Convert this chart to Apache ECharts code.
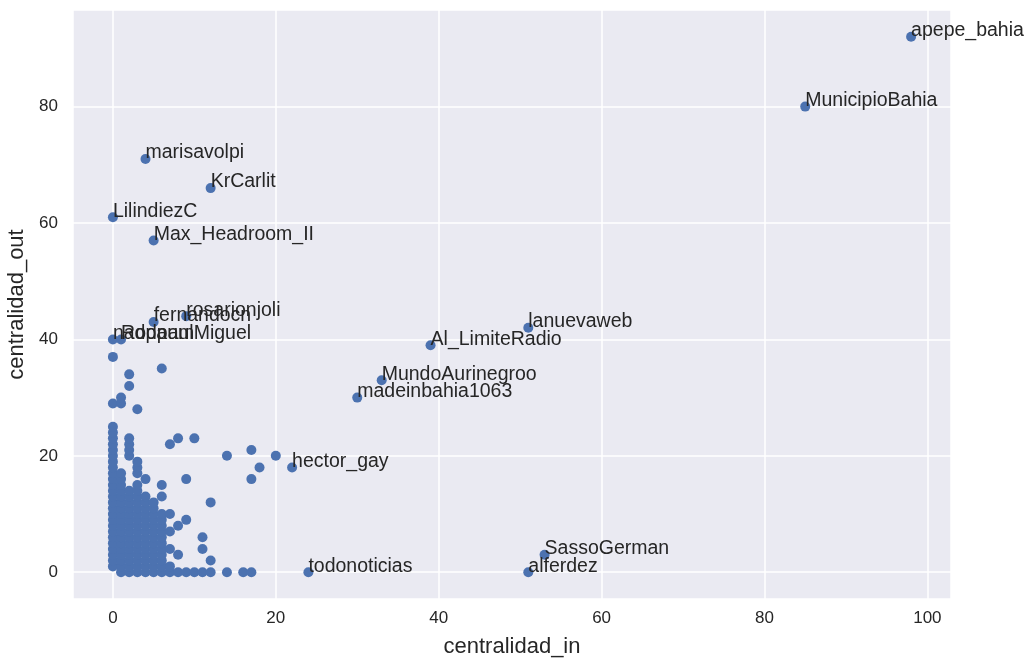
<!DOCTYPE html>
<html>
<head>
<meta charset="utf-8">
<script src="https://cdn.jsdelivr.net/npm/echarts@6/dist/echarts.min.js"></script>
<style>
  html, body { margin: 0; padding: 0; background: #fff; }
  #chart { width: 1026px; height: 659px; }
</style>
</head>
<body>
<div id="chart"></div>
<script>
// nodos con etiqueta: nombre, centralidad_in, centralidad_out
const labelNames = ['apepe_bahia', 'MunicipioBahia', 'marisavolpi', 'KrCarlit', 'LilindiezC',
  'Max_Headroom_II', 'rosarionjoli', 'fernandocn', 'nadpaum', 'RodpaulMiguel',
  'Al_LimiteRadio', 'lanuevaweb', 'MundoAurinegroo', 'madeinbahia1063', 'hector_gay',
  'todonoticias', 'alferdez', 'SassoGerman']
const labelIn  = [98, 85, 4, 12, 0, 5, 9, 5, 0, 1, 39, 51, 33, 30, 22, 24, 51, 53]
const labelOut = [92, 80, 71, 66, 61, 57, 44, 43, 40, 40, 39, 42, 33, 30, 18, 0, 0, 3]

// resto de nodos, agrupados por centralidad_out: [out, [valores de in]]
const clusterRows = [
  [0, [1, 2, 3, 4, 5, 6, 7, 8, 9, 10, 11, 12, 14, 16, 17]],
  [1, [0, 1, 2, 3, 4, 5, 6, 7]],
  [2, [0, 1, 2, 3, 4, 5, 6, 12]],
  [3, [0, 1, 2, 3, 4, 5, 6, 8]],
  [4, [0, 1, 2, 3, 4, 5, 6, 7, 11]],
  [5, [0, 1, 2, 3, 4, 5, 6]],
  [6, [0, 1, 2, 3, 4, 5, 6, 11]],
  [7, [0, 1, 2, 3, 4, 5, 6, 7]],
  [8, [0, 1, 2, 3, 4, 5, 6, 8]],
  [9, [0, 1, 2, 3, 4, 5, 6, 9]],
  [10, [0, 1, 2, 3, 4, 5, 6, 7]],
  [11, [0, 1, 2, 3, 4, 5]],
  [12, [0, 1, 2, 3, 4, 5, 12]],
  [13, [0, 1, 2, 3, 4, 6]],
  [14, [0, 1, 2, 3]],
  [15, [0, 1, 3, 6]],
  [16, [0, 1, 4, 9, 17]],
  [17, [0, 1, 3]],
  [18, [0, 3, 18]],
  [19, [0, 3]],
  [20, [0, 2, 14, 20]],
  [21, [0, 2, 17]],
  [22, [0, 2, 7]],
  [23, [0, 2, 8, 10]],
  [24, [0]],
  [25, [0]],
  [28, [3]],
  [29, [0, 1]],
  [30, [1]],
  [32, [2]],
  [34, [2]],
  [35, [6]],
  [37, [0]]
]

const xMin = -4.9, xMax = 102.9
const yMin = -4.6, yMax = 96.6

const textColor = '#262626'
const dotColor = '#4c72b0'
const font = '"Liberation Sans", Arial, sans-serif'

const clusterData = []
for (const row of clusterRows) {
  for (const x of row[1]) {
    clusterData.push([x, row[0]])
  }
}
const labelData = labelNames.map(function (n, i) {
  return { name: n, value: [labelIn[i], labelOut[i]] }
})

function axis(name, min, max, gap, margin) {
  return {
    type: 'value',
    name: name,
    nameLocation: 'middle',
    nameGap: gap,
    nameTextStyle: { color: textColor, fontSize: 22, fontFamily: font },
    min: min,
    max: max,
    axisLine: { show: false },
    axisTick: { show: false },
    axisLabel: {
      color: textColor, fontSize: 17, fontFamily: font, margin: margin,
      showMinLabel: false, showMaxLabel: false
    },
    splitLine: { show: true, lineStyle: { color: '#ffffff', width: 1.5 } }
  }
}

const myChart = echarts.init(document.getElementById('chart'))
myChart.setOption({
  animation: false,
  grid: {
    left: 73, top: 10, width: 878, height: 589,
    outerBoundsMode: 'none', containLabel: false,
    show: true, backgroundColor: '#eaeaf2', borderWidth: 0
  },
  xAxis: axis('centralidad_in', xMin, xMax, 37, 11),
  yAxis: axis('centralidad_out', yMin, yMax, 44, 15),
  series: [
    {
      type: 'scatter',
      symbolSize: 10,
      itemStyle: { color: dotColor, opacity: 1 },
      data: clusterData
    },
    {
      type: 'scatter',
      symbolSize: 10,
      itemStyle: { color: dotColor, opacity: 1 },
      label: {
        show: true,
        formatter: '{b}',
        position: [5, 9],
        align: 'left',
        verticalAlign: 'bottom',
        color: textColor,
        fontSize: 19.5,
        fontFamily: font
      },
      labelLayout: { hideOverlap: false },
      data: labelData
    }
  ]
})
</script>
</body>
</html>
